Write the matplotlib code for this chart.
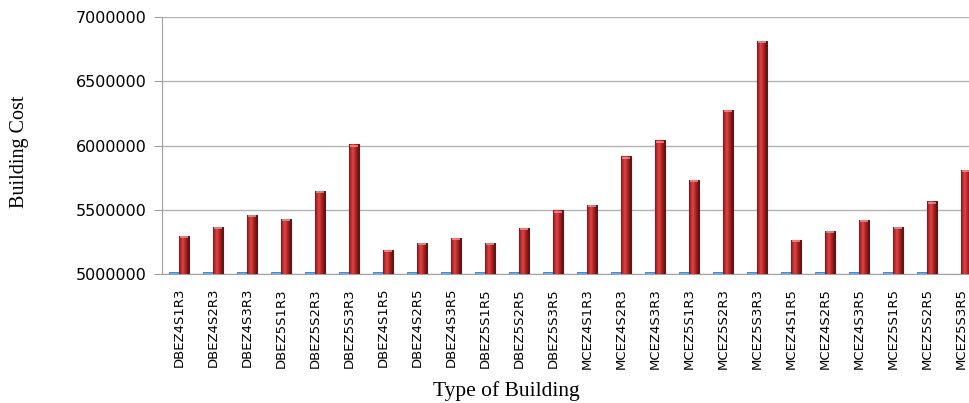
import matplotlib.pyplot as plt
import numpy as np
from matplotlib.colors import LinearSegmentedColormap

# building types and costs
types = ['DBEZ4S1R3', 'DBEZ4S2R3', 'DBEZ4S3R3', 'DBEZ5S1R3', 'DBEZ5S2R3', 'DBEZ5S3R3',
         'DBEZ4S1R5', 'DBEZ4S2R5', 'DBEZ4S3R5', 'DBEZ5S1R5', 'DBEZ5S2R5', 'DBEZ5S3R5',
         'MCEZ4S1R3', 'MCEZ4S2R3', 'MCEZ4S3R3', 'MCEZ5S1R3', 'MCEZ5S2R3', 'MCEZ5S3R3',
         'MCEZ4S1R5', 'MCEZ4S2R5', 'MCEZ4S3R5', 'MCEZ5S1R5', 'MCEZ5S2R5', 'MCEZ5S3R5']
cost = [5296000, 5366000, 5457000, 5426000, 5648000, 6009000,
        5187000, 5241000, 5284000, 5243000, 5360000, 5495000,
        5540000, 5915000, 6040000, 5730000, 6280000, 6815000,
        5265000, 5335000, 5420000, 5368000, 5565000, 5810000]
# second series sits almost on the axis floor
other = [5014000, 5014000, 5014000, 5014000, 5014000, 5014000,
         5014000, 5014000, 5014000, 5014000, 5014000, 5014000,
         5014000, 5014000, 5014000, 5014000, 5014000, 5014000,
         5014000, 5014000, 5014000, 5014000, 5014000, 0]
yticks = [5000000, 5500000, 6000000, 6500000, 7000000]

fig = plt.figure(figsize=(9.69, 4.03), dpi=100)
# axes runs a bit past the right edge like the original crop
ax = fig.add_axes([162/969, 1-274/403, 816/969, 257/403])

x = np.arange(len(types))
w = 0.294
ax.bar(x - w/2, other, width=w, color='#6aaee8', edgecolor='#2f7fc8', lw=0.6, zorder=3)
reds = ax.bar(x + w/2, cost, width=w, color='#c0302f', edgecolor='#6e1212', lw=0.8, zorder=3)

# cylinder-ish shading on the red bars
cmap = LinearSegmentedColormap.from_list('cyl', ['#7a1616', '#c22c2c', '#dc4646', '#c02a2a', '#921c1c', '#5e0f0f'])
grad = np.linspace(0, 1, 64).reshape(1, -1)
for p in reds:
    x0, y0 = p.get_x(), 5000000
    x1, y1 = x0 + p.get_width(), p.get_height()
    im = ax.imshow(grad, cmap=cmap, extent=[x0, x1, y0, y1], aspect='auto', zorder=3.5)
    im.set_clip_path(p)
    ax.plot([x0 + 0.03, x1 - 0.03], [y1 - 9000, y1 - 9000], color='#f08a8a', lw=1.2, zorder=4,
            solid_capstyle='butt')

ax.set_xlim(-0.5, 23.5)
ax.set_ylim(5000000, 7000000)
ax.set_yticks(yticks)
ax.set_yticklabels([str(v) for v in yticks], fontsize=11.5, family='DejaVu Sans')
ax.yaxis.grid(True, color='#b3b3b3', lw=1)
ax.set_axisbelow(True)
ax.set_xticks(x)
ax.set_xticklabels(types, rotation=90, fontsize=9.5, family=['Liberation Sans Narrow', 'DejaVu Sans'], va='top')
ax.tick_params(axis='x', length=0, pad=10)
ax.tick_params(axis='y', length=6, color='#a0a0a0', pad=5)
for s in ['top', 'right']:
    ax.spines[s].set_visible(False)
ax.spines['left'].set_color('#a0a0a0')
ax.spines['bottom'].set_color('#a0a0a0')

fig.text(506/969, 1-391/403, 'Type of Building', ha='center', va='center',
         fontsize=15.5, family='Liberation Serif')
fig.text(20/969, 1-152/403, 'Building Cost', ha='center', va='center', rotation=90,
         fontsize=14.5, family='Liberation Serif')

fig.savefig('out.png', dpi=100)
